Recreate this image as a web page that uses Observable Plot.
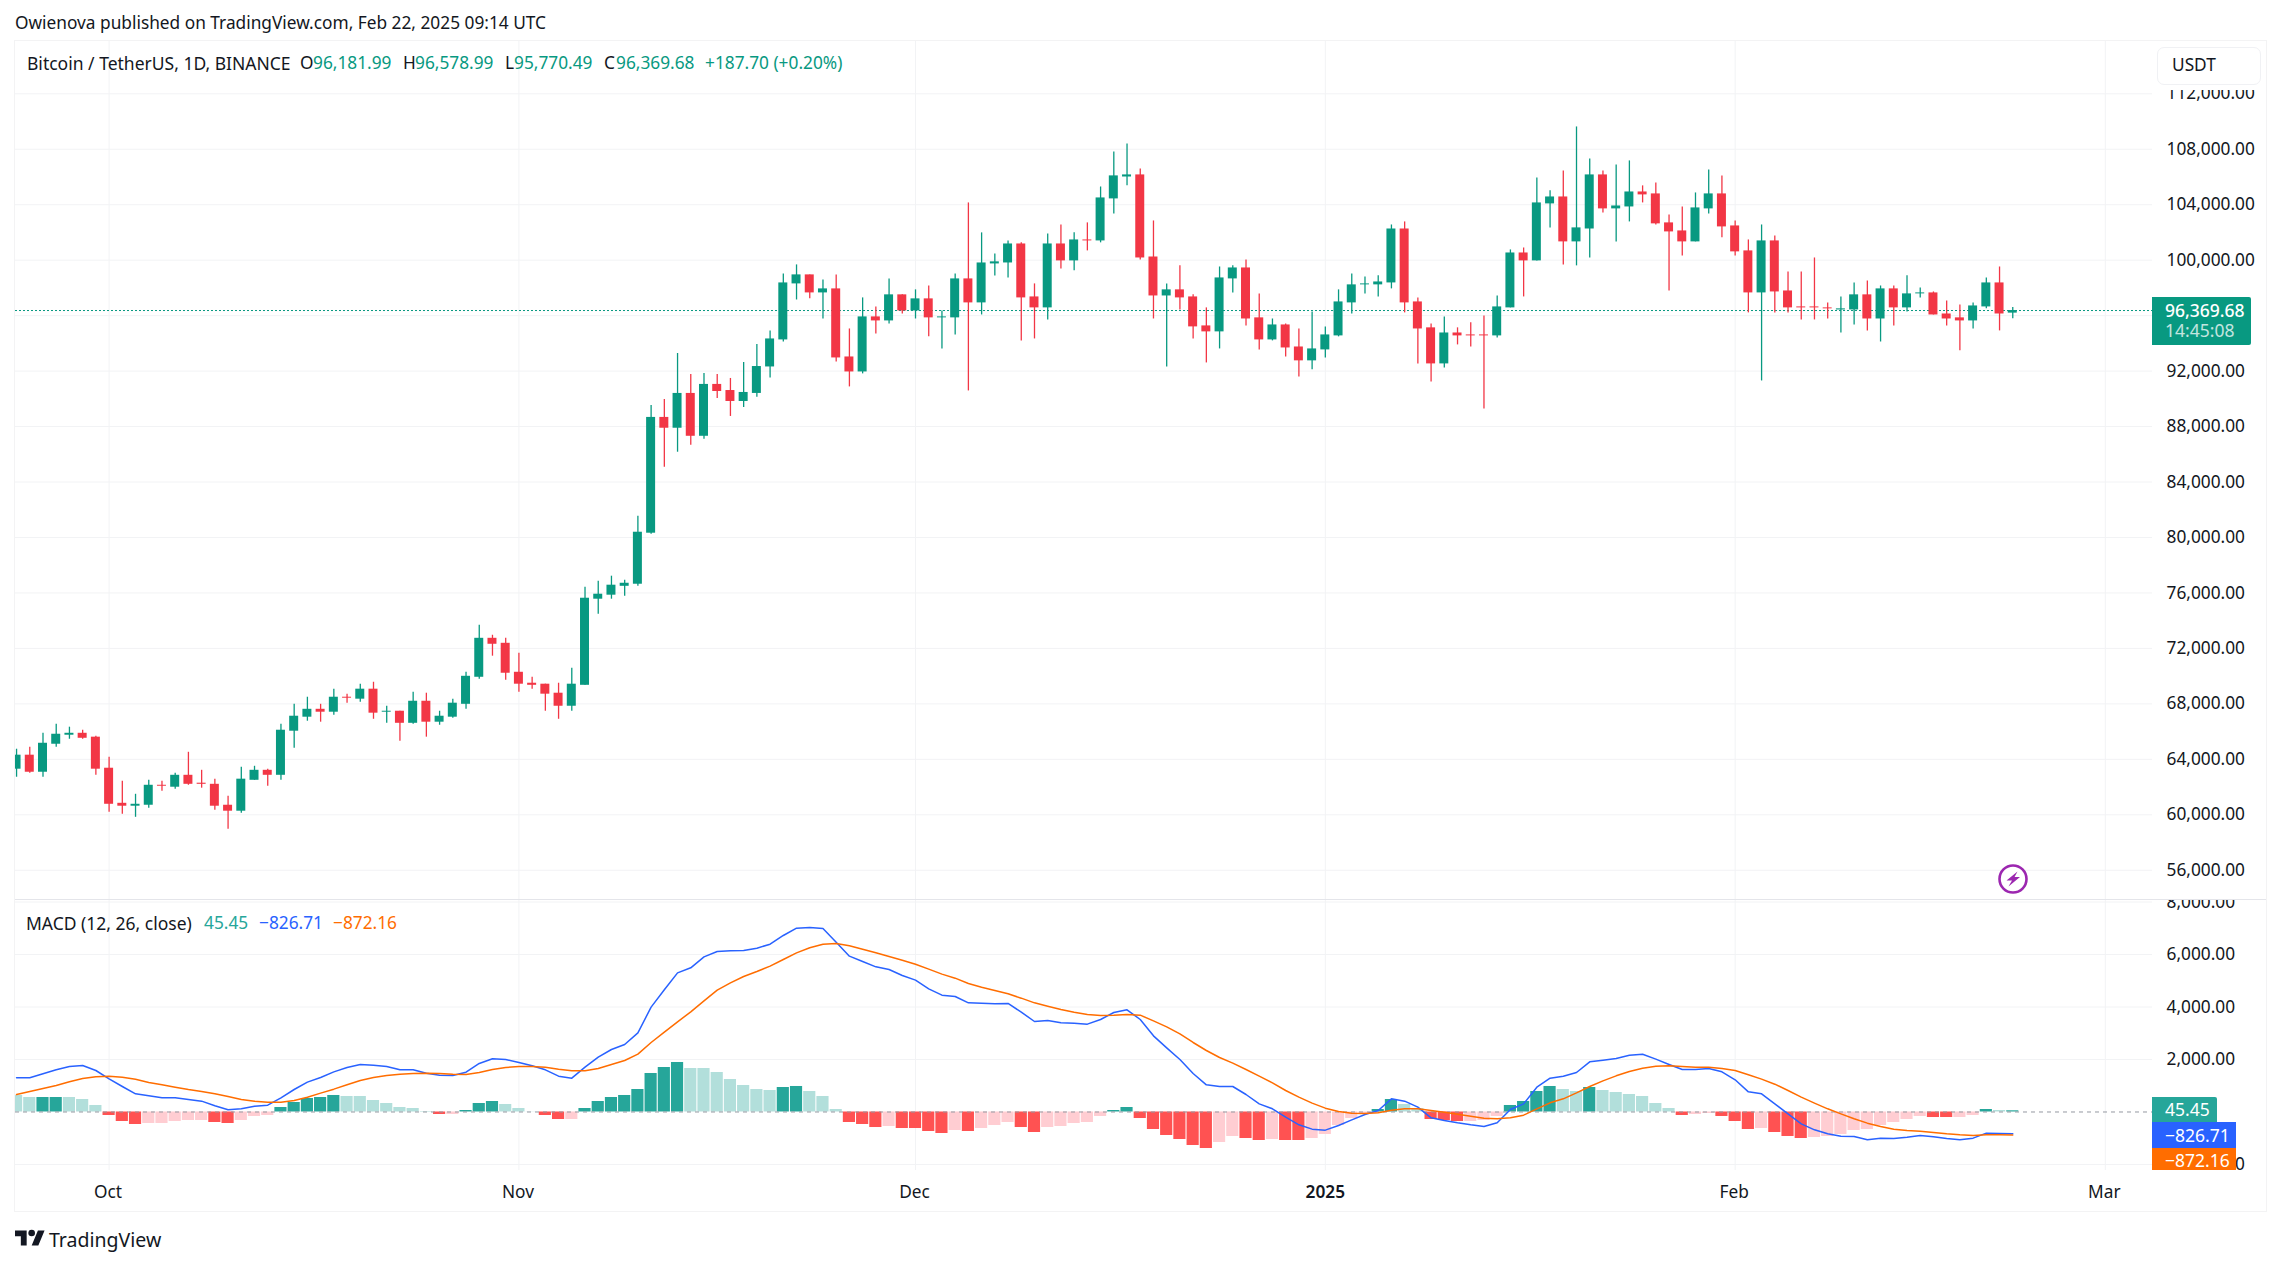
<!DOCTYPE html>
<html><head><meta charset="utf-8">
<script src="https://cdn.jsdelivr.net/npm/d3@7"></script>
<script src="https://cdn.jsdelivr.net/npm/@observablehq/plot@0.6"></script>
<style>
html,body{margin:0;padding:0;background:#fff;width:2283px;height:1265px;overflow:hidden}
body{font-family:"Noto Sans",sans-serif;color:#131722;position:relative}
.t{position:absolute;white-space:nowrap;font-size:17.3px;line-height:20px}
.g{color:#089981}
#frame{position:absolute;left:14px;top:40px;width:2251px;height:1170px;border:1.5px solid #f3f3f4;box-sizing:content-box}
#div{position:absolute;left:15px;top:899px;width:2251px;height:1px;background:#e4e5ea}
.pane{position:absolute;left:15px}
.pane text{font-size:17.3px}
.tag{position:absolute;left:2152px;color:#fff;font-size:17.5px;box-sizing:border-box;padding-left:13px}
</style></head><body>
<div id="frame"></div>
<div id="price" class="pane" style="top:41px"></div>
<div id="macd" class="pane" style="top:900px"></div>
<div id="div"></div>

<div class="t" style="left:15px;top:13px">Owienova published on TradingView.com, Feb 22, 2025 09:14 UTC</div>
<div class="t" style="left:27px;top:53px;font-size:17.5px">Bitcoin / TetherUS, 1D, BINANCE</div>
<div class="t" style="left:300px;top:53px">O</div><div class="t g" style="left:313px;top:53px">96,181.99</div>
<div class="t" style="left:403px;top:53px">H</div><div class="t g" style="left:415px;top:53px">96,578.99</div>
<div class="t" style="left:505px;top:53px">L</div><div class="t g" style="left:514px;top:53px">95,770.49</div>
<div class="t" style="left:604px;top:53px">C</div><div class="t g" style="left:616px;top:53px">96,369.68</div>
<div class="t g" style="left:705px;top:53px">+187.70 (+0.20%)</div>

<div class="t" style="left:26px;top:913px;font-size:17.5px">MACD (12, 26, close)</div>
<div class="t" style="left:204px;top:913px;color:#26a69a">45.45</div>
<div class="t" style="left:259px;top:913px;color:#2962ff">−826.71</div>
<div class="t" style="left:333px;top:913px;color:#ff6d00">−872.16</div>

<div style="position:absolute;left:2157px;top:47px;width:104px;height:38px;box-sizing:border-box;background:#fff;border:1.5px solid #f0f1f4;border-radius:7px;box-shadow:0 0 0 5px #fff"></div>
<div class="t" style="left:2172px;top:55px">USDT</div>

<svg style="position:absolute;left:1996px;top:862px" width="34" height="34" viewBox="0 0 34 34">
  <circle cx="17" cy="17" r="13.5" fill="#fff" stroke="#9c27b0" stroke-width="2.6"/>
  <path d="M21.5 9.5 10.5 18.5h5.5l-3.5 6 11.5-9.5h-5.5z" fill="#9c27b0"/>
</svg>

<div id="lastTag" class="tag" style="width:99px;height:48px;background:#089981;border-radius:0 2px 2px 0;line-height:20px">
  <div style="padding-top:3px;font-weight:500">96,369.68</div><div style="opacity:.75">14:45:08</div>
</div>
<div class="tag" style="top:1097px;width:65px;height:25px;background:#26a69a;line-height:25px;border-radius:0 2px 0 0">45.45</div>
<div class="tag" style="top:1122px;width:84px;height:26px;background:#2962ff;line-height:26px">−826.71</div>
<div class="tag" style="top:1148px;width:84px;height:22px;background:#ff6d00;line-height:24px">−872.16</div>
<div style="position:absolute;left:2152px;top:1170px;width:110px;height:10px;background:#fff"></div>

<svg style="position:absolute;left:15px;top:1227px" width="30" height="22" viewBox="0 0 36 26">
  <path d="M14 22H7V11H0V4h14v18ZM28 22h-8l7.5-18h8L28 22Z" fill="#131722"/><circle cx="20" cy="7" r="4" fill="#131722"/>
</svg>
<div class="t" style="left:49px;top:1228px;font-size:19.5px;line-height:24px">TradingView</div>

<script>
const opens = [
 63290,64300,63070,65090,65740,65880,65600,63360,60830,60620,
 60690,62130,61990,62850,62280,62200,60690,60260,62490,63210,
 62850,66030,67040,67610,67400,68480,68340,69060,67400,67470,
 66600,68190,66680,67040,67970,69920,72730,72370,70280,69490,
 69420,68770,67830,69340,75550,75840,76480,76630,80310,88660,
 87880,90390,87300,91040,90600,89810,90390,92300,94250,98290,
 98940,97640,97930,93020,91940,95910,95620,97500,96340,97210,
 95840,95840,98650,96920,99730,99800,101170,97350,96560,101170,
 99950,101460,101390,104420,106000,106150,100230,97420,97860,97350,
 95260,94830,98650,99440,95840,94250,95330,93740,92740,93530,
 94540,96920,98220,98220,98360,102250,96990,95120,92520,94750,
 94610,94610,94540,96560,100520,99950,104060,104560,101320,102250,
 106150,103700,103840,104920,104780,102690,102110,101320,103700,104780,
 102470,100670,97640,101390,97780,96630,96630,96560,96410,96410,
 97500,95760,97930,96560,97570,97640,96120,95840,95620,96630,
 98360,96181.99];
const closes = [
 64300,63070,65160,65810,65880,65520,63290,60760,60620,60760,
 62130,62060,62850,62200,62200,60620,60260,62570,63210,62850,
 66100,67110,67610,67400,68480,68410,69060,67330,67470,66600,
 68190,66680,67110,68050,69990,72730,72300,70210,69420,69340,
 68700,67830,69420,75620,75910,76560,76700,80380,88660,87880,
 90390,87300,91040,90530,89810,90460,92330,94320,98360,98940,
 97640,97930,92950,91940,95910,95620,97500,96340,97210,95840,
 95910,98650,96920,99800,99880,101170,97280,96560,101170,99950,
 101460,101390,104490,106080,106150,100160,97420,97860,97280,95190,
 94830,98720,99440,95760,94250,95330,93670,92740,93600,94610,
 96990,98220,98290,98430,102250,96920,95040,92520,94750,94540,
 94540,94540,96630,100520,99950,104130,104560,101320,102330,106150,
 103700,103910,104920,104710,102620,102040,101320,103770,104780,102400,
 100600,97640,101390,97710,96560,96560,96560,96490,96490,97500,
 95760,97930,96560,97570,97640,96050,95760,95620,96700,98360,
 96120,96369.68];
const highs = [
 64730,64870,65880,66530,66320,66100,65670,64150,62420,61480,
 62490,62420,63000,64510,63210,62570,61340,63430,63500,63290,
 66530,67970,68480,67970,69060,68700,69420,69560,67830,67470,
 68840,68770,67470,68340,70280,73670,72950,72730,71650,69920,
 69420,69490,70570,76410,76850,77210,76920,81530,89520,89950,
 93270,91760,91830,91760,91470,92620,93920,94900,99010,99660,
 98940,98580,98940,95040,97280,96630,98650,97500,97860,98140,
 96340,99010,104130,101970,100450,101390,101250,98290,101890,102540,
 101970,102690,105280,107810,108380,106580,102830,98290,99590,97500,
 96560,99510,99590,100020,97570,95760,95400,95040,96270,95190,
 97860,99010,98790,98870,102540,102760,97280,95400,95910,95120,
 95480,95980,97420,100740,100880,105930,105000,106440,109610,107300,
 106440,106870,107160,105360,105570,103260,103840,104850,106510,106080,
 102830,101460,102540,101750,99150,99150,100160,96920,97350,98360,
 98500,98140,98140,98870,98000,97710,97060,96770,96920,98720,
 99510,96578.99];
const lows = [
 62710,63000,62710,64870,65450,65450,62850,60190,60040,59820,
 60470,61700,61840,62130,61920,60330,58960,60110,62490,62060,
 62490,64800,66750,66680,67180,68050,68120,66890,66600,65310,
 66530,65600,66460,66960,67610,69780,71440,69710,68840,69060,
 67470,66890,67470,69340,74470,75550,75760,76490,80240,85070,
 86150,86650,87090,90030,88730,89380,90120,91510,94100,97130,
 97210,95760,92660,90860,91800,94680,95400,96120,95760,94470,
 93600,94610,90570,96050,98860,98720,94180,94320,95690,99370,
 99230,100670,101250,103340,105360,100020,95760,92300,96410,94320,
 92590,93600,97640,95260,93530,94180,93020,91580,92090,92950,
 94470,96120,97570,97350,97930,96200,92520,91220,92230,93890,
 93740,89270,94390,96560,97350,99950,102330,99660,99590,100160,
 103410,101320,102760,104130,102540,97780,100310,101320,103340,101610,
 100310,96200,91290,96200,96200,95690,95690,95760,94750,95330,
 94900,94100,95260,96270,97280,96050,95260,93460,95040,96490,
 94900,95770.49];
const macdLine = [
 1302,1302,1454,1607,1734,1772,1581,1264,972,692,
 616,540,540,476,413,235,83,121,222,260,
 540,857,1137,1314,1530,1695,1810,1784,1734,1607,
 1607,1480,1403,1391,1518,1848,2026,2000,1886,1759,
 1607,1365,1289,1708,2089,2381,2572,3016,3994,4655,
 5302,5493,5912,6115,6140,6153,6242,6394,6725,7004,
 7029,6991,6471,5937,5734,5531,5429,5201,5023,4693,
 4451,4401,4159,4147,4121,4134,3804,3448,3486,3397,
 3385,3347,3524,3791,3893,3524,2902,2445,2000,1467,
 1035,972,972,667,311,121,-197,-489,-654,-692,
 -514,-298,-95,57,502,413,184,-222,-324,-413,
 -489,-552,-413,95,311,946,1289,1365,1505,1911,
 1975,2038,2165,2203,2013,1810,1619,1619,1657,1530,
 1226,768,692,311,-70,-451,-679,-832,-921,-933,
 -1060,-997,-1010,-959,-895,-946,-1010,-1060,-997,-806,
 -819,-826.71];
const signalLine = [
 667,781,895,1010,1149,1276,1340,1365,1327,1251,
 1124,1035,946,857,781,692,591,476,413,375,
 375,438,565,718,870,1035,1200,1314,1391,1441,
 1467,1480,1467,1441,1429,1505,1619,1695,1734,1734,
 1708,1632,1568,1568,1657,1810,1962,2203,2648,3042,
 3435,3816,4235,4642,4921,5163,5353,5556,5810,6064,
 6255,6394,6420,6331,6204,6064,5925,5785,5632,5442,
 5252,5099,4896,4756,4629,4502,4337,4159,4032,3905,
 3804,3715,3677,3689,3715,3689,3473,3245,2978,2648,
 2343,2076,1861,1619,1365,1111,819,565,337,146,
 19,-44,-57,-32,70,121,121,57,-6,-83,
 -159,-235,-260,-222,-121,121,349,502,730,972,
 1187,1378,1543,1670,1746,1759,1734,1708,1708,1657,
 1581,1416,1251,1060,819,565,337,121,-70,-260,
 -425,-552,-654,-705,-730,-781,-832,-870,-895,-870,
 -870,-872.16];
const histogram = [
 629,552,552,552,552,476,248,-133,-362,-476,
 -438,-438,-362,-324,-324,-400,-438,-324,-171,-133,
 171,362,514,552,629,591,591,438,324,171,
 133,19,-95,-95,57,324,400,286,133,6,
 -133,-286,-286,133,400,552,629,857,1467,1695,
 1886,1657,1657,1505,1238,1010,857,819,933,972,
 781,591,95,-400,-476,-591,-552,-629,-629,-743,
 -819,-705,-743,-629,-514,-400,-591,-781,-591,-552,
 -438,-400,-171,57,171,-248,-667,-895,-1048,-1276,
 -1391,-1162,-933,-1010,-1086,-1048,-1086,-1086,-1010,-857,
 -514,-248,-95,95,476,286,133,-286,-324,-362,
 -362,-324,-171,248,400,781,972,857,781,933,
 819,743,667,591,324,133,-133,-95,-57,-171,
 -362,-667,-629,-781,-933,-1010,-972,-933,-857,-705,
 -667,-514,-400,-286,-171,-210,-210,-210,-133,95,
 57,45.45];
const histTones = "LLDDLLLDDD"+"LLLLLDDLLL"+"DDDDDLLLLL"+"LLDLDDDLLL"+"DDLDDDDDDD"+"DLLLLLLLDD"+"LLLDDDLDDD"+"DLDLLLDDLL"+"LLLDDDDDDD"+"DLLDDLDDLL"+"LLLDDLLDDD"+"LLLDDDDLLD"+"LLLLLLDLLD"+"DDLDDDLLLL"+"LLLLLDDLLD"+"LD";
const priceTicks = d3.range(56000, 112001, 4000);
const macdTicks = [-2000,0,2000,4000,6000,8000];
const lastPrice = 96369.68;
const monthNames = ["Oct","Nov","Dec","Feb","Mar"];
const monthDates = [[2024,9],[2024,10],[2024,11],[2025,1],[2025,2]].map(([y,m])=>new Date(Date.UTC(y,m,1)));
const yearDate = new Date(Date.UTC(2025,0,1));

const DAY = 864e5;
const start = new Date(Date.UTC(2024,8,24));
const oct1 = +monthDates[0];
const xDomain = [new Date(oct1 - 7.08*DAY), new Date(oct1 + 154.57*DAY)];
const UP="#089981", DOWN="#f23645";
const candles = opens.map((open,i)=>({date:d3.utcDay.offset(start,i),open,high:highs[i],low:lows[i],close:closes[i]}));
const hist = histogram.map((v,i)=>({date:d3.utcDay.offset(start,i),v,c:v>=0?(histTones[i]==="D"?"#26a69a":"#b2dfdb"):(histTones[i]==="D"?"#ff5252":"#ffcdd2"),macd:macdLine[i],signal:signalLine[i]}));
const allMonths = [...monthDates, yearDate];
const GRID="#f2f3f5";
const FONT='"Noto Sans",sans-serif';
const W=2252, MR=115;
const fmt = d=>d3.format(",.2f")(d).replace("-","−");

const pricePlot = Plot.plot({
  width:W,height:859,marginLeft:0,marginRight:MR,marginTop:0,marginBottom:0,
  style:{fontFamily:FONT,color:"#131722",overflow:"hidden",background:"transparent"},
  x:{type:"utc",domain:xDomain,axis:null},
  y:{domain:[53820,115772],axis:null},
  color:{type:"identity"},
  marks:[
    Plot.ruleX(allMonths,{stroke:GRID,strokeWidth:1}),
    Plot.ruleY(priceTicks,{stroke:GRID,strokeWidth:1}),
    Plot.ruleY([lastPrice],{stroke:UP,strokeWidth:1,strokeDasharray:"2 2"}),
    Plot.ruleX(candles,{x:"date",y1:"low",y2:"high",stroke:d=>d.close>=d.open?UP:DOWN,strokeWidth:1.3,clip:true}),
    Plot.rect(candles,{x1:d=>new Date(+d.date-.34*DAY),x2:d=>new Date(+d.date+.34*DAY),y1:"open",y2:"close",fill:d=>d.close>=d.open?UP:DOWN,clip:true}),
    Plot.axisY(priceTicks,{anchor:"right",tickSize:0,tickPadding:14,textAnchor:"start",tickFormat:fmt,label:null})
  ]
});
document.getElementById("price").appendChild(pricePlot);
document.getElementById("lastTag").style.top=(41+pricePlot.scale("y").apply(lastPrice)-13)+"px";

const macdPlot = Plot.plot({
  width:W,height:311,marginLeft:0,marginRight:MR,marginTop:0,marginBottom:41,
  style:{fontFamily:FONT,color:"#131722",overflow:"hidden",background:"transparent"},
  x:{type:"utc",domain:xDomain},
  y:{domain:[-2229,8058],axis:null},
  color:{type:"identity"},
  marks:[
    Plot.ruleX(allMonths,{stroke:GRID,strokeWidth:1}),
    Plot.ruleY(macdTicks.filter(d=>d!==0),{stroke:GRID,strokeWidth:1}),
    Plot.rect(hist,{x1:d=>new Date(+d.date-.46*DAY),x2:d=>new Date(+d.date+.46*DAY),y1:0,y2:"v",fill:"c",clip:true}),
    Plot.ruleY([0],{stroke:"#9598a1",strokeWidth:1,strokeDasharray:"4 4"}),
    Plot.lineY(hist,{x:"date",y:"macd",stroke:"#2962ff",strokeWidth:1.5,clip:true}),
    Plot.lineY(hist,{x:"date",y:"signal",stroke:"#ff6d00",strokeWidth:1.5,clip:true}),
    Plot.axisY(macdTicks,{anchor:"right",tickSize:0,tickPadding:14,textAnchor:"start",tickFormat:fmt,label:null}),
    Plot.axisX(monthDates,{tickSize:0,tickPadding:15,tickFormat:(d,i)=>monthNames[i],label:null,dx:-1}),
    Plot.axisX([yearDate],{tickSize:0,tickPadding:15,tickFormat:()=>"2025",label:null,fontWeight:600})
  ]
});
document.getElementById("macd").appendChild(macdPlot);
</script>
</body></html>
